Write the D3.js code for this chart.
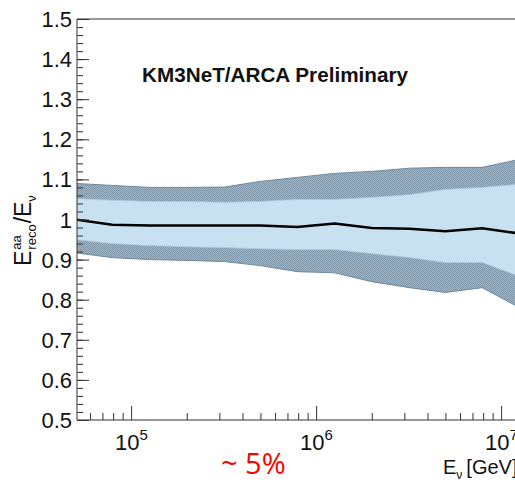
<!DOCTYPE html>
<html>
<head>
<meta charset="utf-8">
<script src="https://cdn.jsdelivr.net/npm/d3@7"></script>
<style>
  body { margin: 0; background: #fff; }
  svg { display: block; font-family: "Liberation Sans", Arial, sans-serif; }
</style>
</head>
<body>
<div class="plot"></div>
<script>
// energy bin centres [GeV]
const energies = [5.0e4, 7.9e4, 1.26e5, 2.0e5, 3.2e5, 5.0e5, 7.9e5, 1.26e6, 2.0e6, 3.2e6, 5.0e6, 7.9e6, 1.26e7, 2.0e7];
// median of E_reco/E_nu
const median   = [1.000, 0.987, 0.985, 0.985, 0.985, 0.985, 0.981, 0.990, 0.979, 0.977, 0.971, 0.978, 0.965, 0.960];
// inner band (light blue)
const innerHi  = [1.052, 1.048, 1.045, 1.045, 1.043, 1.045, 1.050, 1.050, 1.055, 1.062, 1.075, 1.080, 1.088, 1.090];
const innerLo  = [0.950, 0.940, 0.935, 0.932, 0.930, 0.927, 0.925, 0.925, 0.915, 0.905, 0.893, 0.893, 0.858, 0.850];
// outer band (hatched grey-blue)
const outerHi  = [1.090, 1.085, 1.080, 1.080, 1.081, 1.095, 1.105, 1.115, 1.120, 1.128, 1.130, 1.130, 1.150, 1.160];
const outerLo  = [0.917, 0.905, 0.900, 0.898, 0.895, 0.885, 0.870, 0.867, 0.845, 0.830, 0.818, 0.830, 0.780, 0.770];

const yTicks = [0.5, 0.6, 0.7, 0.8, 0.9, 1.0, 1.1, 1.2, 1.3, 1.4, 1.5];
const yTickLabels = ["0.5", "0.6", "0.7", "0.8", "0.9", "1", "1.1", "1.2", "1.3", "1.4", "1.5"];
const xDecades = [1e5, 1e6, 1e7];
const xDecadeExp = ["5", "6", "7"];

const W = 515, H = 482;
const margin = { top: 19, left: 77, bottom: 62 };
const decade = 185;

const svg = d3.select(".plot")
    .append("svg")
    .attr("width", W)
    .attr("height", H);

const x = d3.scaleLog()
    .domain([5.1e4, 2e7])
    .range([margin.left, margin.left + decade * Math.log10(2e7 / 5.1e4)]);

const y = d3.scaleLinear()
    .domain([0.5, 1.5])
    .range([H - margin.bottom, margin.top]);

const defs = svg.append("defs");
defs.append("clipPath").attr("id", "plotclip")
    .append("rect")
    .attr("x", margin.left).attr("y", margin.top)
    .attr("width", x.range()[1] - margin.left)
    .attr("height", y(0.5) - y(1.5));

const pat = defs.append("pattern")
    .attr("id", "hatch")
    .attr("patternUnits", "userSpaceOnUse")
    .attr("width", 2).attr("height", 2);
pat.append("rect").attr("width", 2).attr("height", 2).attr("fill", "#a0b4c5");
pat.append("rect").attr("width", 1).attr("height", 1).attr("fill", "#8197aa");
pat.append("rect").attr("x", 1).attr("y", 1).attr("width", 1).attr("height", 1).attr("fill", "#8197aa");

const rows = energies.map((e, i) => ({
    e: e, med: median[i], iHi: innerHi[i], iLo: innerLo[i], oHi: outerHi[i], oLo: outerLo[i]
}));

const plotArea = svg.append("g").attr("clip-path", "url(#plotclip)");

const bandArea = (lo, hi) => d3.area()
    .x(d => x(d.e))
    .y0(d => y(d[lo]))
    .y1(d => y(d[hi]));

plotArea.append("path")
    .datum(rows)
    .attr("d", bandArea("oLo", "oHi"))
    .attr("fill", "url(#hatch)")
    .attr("stroke", "#6f889d")
    .attr("stroke-width", 1);

plotArea.append("path")
    .datum(rows)
    .attr("d", bandArea("iLo", "iHi"))
    .attr("fill", "#c8e1f1")
    .attr("stroke", "#a9cbe3")
    .attr("stroke-width", 0.8);

plotArea.append("path")
    .datum(rows)
    .attr("d", d3.line().x(d => x(d.e)).y(d => y(d.med)))
    .attr("fill", "none")
    .attr("stroke", "#000")
    .attr("stroke-width", 2.5);

// frame
const axisColor = "#333";
svg.append("line")
    .attr("x1", margin.left).attr("x2", margin.left)
    .attr("y1", y(1.5)).attr("y2", y(0.5))
    .attr("stroke", axisColor);
svg.append("line")
    .attr("x1", margin.left).attr("x2", W)
    .attr("y1", y(0.5)).attr("y2", y(0.5))
    .attr("stroke", axisColor);
svg.append("line")
    .attr("x1", margin.left).attr("x2", W)
    .attr("y1", y(1.5)).attr("y2", y(1.5))
    .attr("stroke", axisColor);

// y axis: ticks inside the frame
const yAxis = d3.axisRight(y)
    .tickValues(yTicks)
    .tickSize(12)
    .tickFormat("");
const yMinor = d3.axisRight(y)
    .ticks(50)
    .tickSize(6)
    .tickFormat("");
svg.append("g").attr("transform", `translate(${margin.left},0)`).call(yMinor)
    .call(g => g.select(".domain").remove())
    .selectAll("line").attr("stroke", axisColor);
svg.append("g").attr("transform", `translate(${margin.left},0)`).call(yAxis)
    .call(g => g.select(".domain").remove())
    .selectAll("line").attr("stroke", axisColor);

svg.append("g").selectAll("text")
    .data(yTicks)
    .enter().append("text")
    .attr("x", margin.left - 5)
    .attr("y", d => y(d) + 8)
    .attr("text-anchor", "end")
    .attr("font-size", 22)
    .attr("fill", "#111")
    .text((d, i) => yTickLabels[i]);

// x axis: log ticks inside the frame
const xMinorVals = [];
[1e4, 1e5, 1e6, 1e7].forEach(dec => {
    [2, 3, 4, 5, 6, 7, 8, 9].forEach(m => {
        const v = dec * m;
        if (v > x.domain()[0] && v < x.domain()[1]) xMinorVals.push(v);
    });
});
const xMinor = d3.axisTop(x).tickValues(xMinorVals).tickSize(7).tickFormat("");
const xMajor = d3.axisTop(x).tickValues(xDecades).tickSize(14).tickFormat("");
[xMinor, xMajor].forEach(ax => {
    svg.append("g").attr("transform", `translate(0,${y(0.5)})`).call(ax)
        .call(g => g.select(".domain").remove())
        .selectAll("line").attr("stroke", axisColor);
});

const xLab = svg.append("g").selectAll("text")
    .data(xDecades)
    .enter().append("text")
    .attr("x", d => x(d) - 16)
    .attr("y", 450)
    .attr("font-size", 22)
    .attr("fill", "#111");
xLab.append("tspan").text("10");
xLab.append("tspan").attr("dy", -10).attr("font-size", 15).text((d, i) => xDecadeExp[i]);

// axis titles
const xt = svg.append("text")
    .attr("x", 443).attr("y", 474)
    .attr("font-size", 20)
    .attr("fill", "#111");
xt.append("tspan").text("E");
xt.append("tspan").attr("dy", 5).attr("font-size", 12).text("ν");
xt.append("tspan").attr("dy", -5).attr("dx", 4).text("[GeV]");

const yt = svg.append("g").attr("transform", "translate(31,266) rotate(-90)")
    .attr("fill", "#111");
const e1 = yt.append("text").attr("x", 0).attr("y", 0).attr("font-size", 23).text("E");
let u = e1.node().getComputedTextLength() + 1;
yt.append("text").attr("x", u).attr("y", -10).attr("font-size", 13).text("aa");
const reco = yt.append("text").attr("x", u).attr("y", 5).attr("font-size", 13).text("reco");
u += reco.node().getComputedTextLength() + 1;
const sl = yt.append("text").attr("x", u).attr("y", 0).attr("font-size", 23).text("/E");
u += sl.node().getComputedTextLength();
yt.append("text").attr("x", u).attr("y", 5).attr("font-size", 13).text("ν");

// annotations
svg.append("text")
    .attr("x", 142).attr("y", 82)
    .attr("font-size", 20)
    .attr("font-weight", "bold")
    .attr("textLength", 266)
    .attr("lengthAdjust", "spacingAndGlyphs")
    .attr("fill", "#111")
    .text("KM3NeT/ARCA Preliminary");

svg.append("text")
    .attr("x", 221).attr("y", 474)
    .attr("font-size", 29)
    .attr("font-family", "'Open Sans', 'Liberation Sans', sans-serif")
    .attr("fill", "#f00")
    .text("~ 5%");
</script>
</body>
</html>
